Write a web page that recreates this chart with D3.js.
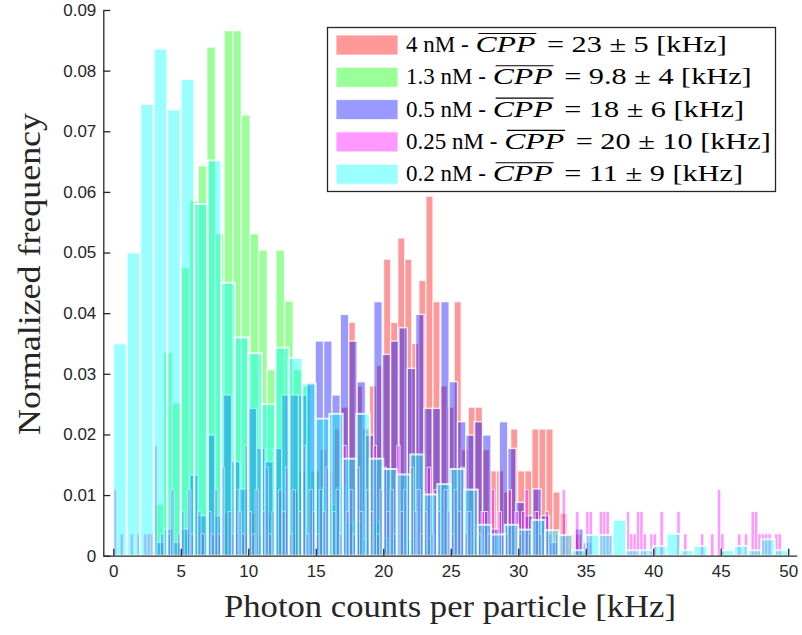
<!DOCTYPE html>
<html>
<head>
<meta charset="utf-8">
<script src="https://cdn.jsdelivr.net/npm/d3@7"></script>
<style>
  body { margin: 0; background: #fff; }
  svg { display: block; }
</style>
</head>
<body>
<svg id="chart" width="802" height="635"></svg>
<script>
// Normalized histograms of photon counts per particle, one per concentration.
// Each series: first bin edge, bin width (kHz) and normalized frequency per bin.

const redStart = 5.38, redBinWidth = 0.523;            // 4 nM
const redFreq = [
  0.0035, 0, 0.0035, 0, 0.0035, 0.007, 0, 0.0035, 0.0035, 0.007,
  0.0035, 0.007, 0.0035, 0.0105, 0.007, 0.0105, 0.014, 0.0105, 0.014, 0.0175,
  0.014, 0.0209, 0.0245, 0.0385, 0.028, 0.0209, 0.028, 0.0314, 0.0489, 0.0385,
  0.0524, 0.0489, 0.035, 0.0454, 0.0593, 0.0419, 0.028, 0.0245, 0.0419, 0.0175,
  0.0245, 0.0245, 0.0175, 0.014, 0.014, 0.0105, 0.0209, 0.014, 0.014, 0.0209,
  0.0209, 0.0209, 0.0105, 0.007, 0.0035, 0.0035
];

const greenStart = 3.09, greenBinWidth = 0.64;         // 1.3 nM
const greenFreq = [
  0.0085, 0.0335, 0.0252, 0.0475, 0.0586, 0.0643, 0.0839, 0.0531, 0.0866, 0.0866,
  0.0727, 0.0531, 0.0504, 0.0307, 0.0504, 0.042, 0.0307, 0.028, 0.014, 0.0112,
  0.0084, 0.0112, 0.0056, 0.0056, 0.0028, 0.0056, 0.0028, 0.0028, 0, 0.0028,
  0, 0.0028, 0, 0, 0, 0, 0, 0.0028
];

const blueStart = 3.18, blueBinWidth = 0.62;           // 0.5 nM
const blueFreq = [
  0.0022, 0.0044, 0.0022, 0.0044, 0.0133, 0.0066, 0.0199, 0.0066, 0.0265, 0.0155,
  0.011, 0.0243, 0.0177, 0.0155, 0.0177, 0.0265, 0.0265, 0.0265, 0.0286, 0.0354,
  0.0354, 0.0265, 0.0398, 0.0354, 0.0287, 0.0199, 0.0419, 0.0332, 0.0354, 0.0376,
  0.0309, 0.0398, 0.0243, 0.0243, 0.0419, 0.0287, 0.0221, 0.0199, 0.0221, 0.0199,
  0.0044, 0.0221, 0.0177, 0.0088, 0.0066, 0.011, 0.0066, 0.0022, 0, 0,
  0.0044, 0.0022
];

const pinkStart = 0, pinkBinWidth = 0.25;              // 0.25 nM
const pinkFreq = [
  0.0109, 0, 0.0036, 0, 0, 0.0036, 0, 0.0036, 0, 0.0036,
  0.0036, 0.0036, 0.0182, 0, 0.0036, 0, 0.0036, 0.0109, 0, 0.0036,
  0.0073, 0, 0.0109, 0.0036, 0, 0.0073, 0.0036, 0, 0.0073, 0.0036,
  0.0109, 0.0036, 0.0146, 0, 0.0073, 0.0036, 0.0109, 0.0073, 0.0036, 0.0182,
  0.0073, 0.0036, 0.0109, 0, 0.0073, 0.0146, 0.0036, 0.0073, 0, 0.0109,
  0.0073, 0.0146, 0.0036, 0.0109, 0, 0.0073, 0.0182, 0.0036, 0.0109, 0.0073,
  0.0036, 0.0109, 0.0073, 0.0146, 0, 0.0073, 0.0109, 0.0036, 0.0182, 0.0073,
  0.0109, 0.0036, 0.0146, 0.0073, 0, 0.0109, 0.0073, 0.0182, 0.0036, 0.0109,
  0.0146, 0.0073, 0.0109, 0.0036, 0.0182, 0.0073, 0.0109, 0, 0.0146, 0.0073,
  0.0109, 0.0036, 0.0073, 0.0146, 0.0036, 0.0109, 0.0073, 0, 0.0109, 0.0073,
  0.0036, 0.0109, 0.0073, 0.0146, 0.0036, 0.0073, 0, 0.0109, 0.0036, 0.0073,
  0.0073, 0.0036, 0.0109, 0, 0.0073, 0.0036, 0.0036, 0.0109, 0, 0.0073,
  0.0036, 0.0073, 0.0109, 0.0036, 0, 0.0073, 0.0036, 0, 0.0073, 0.0036,
  0, 0.0036, 0, 0.0109, 0.0036, 0, 0, 0.0073, 0, 0,
  0.0073, 0.0073, 0, 0, 0.0073, 0.0073, 0.0073, 0.0036, 0, 0,
  0, 0, 0.0073, 0.0036, 0.0036, 0.0073, 0.0073, 0.0036, 0, 0.0036,
  0.0036, 0, 0.0073, 0, 0, 0, 0, 0.0073, 0, 0.0036,
  0, 0, 0, 0, 0.0036, 0, 0, 0.0036, 0, 0.0109,
  0.0036, 0, 0, 0, 0, 0.0036, 0, 0.0036, 0, 0.0073,
  0.0073, 0.0036, 0.0036, 0.0036, 0.0036, 0, 0.0036, 0.0036, 0, 0
];

const cyanStart = 0, cyanBinWidth = 1;                 // 0.2 nM
const cyanFreq = [
  0.035, 0.050, 0.0745, 0.0836, 0.0736, 0.0786, 0.058, 0.0652, 0.045, 0.036,
  0.0334, 0.025, 0.0343, 0.0326, 0.0284, 0.0226, 0.0234, 0.016, 0.0234, 0.016,
  0.0143, 0.0134, 0.0167, 0.0101, 0.0118, 0.0143, 0.0109, 0.0051, 0.0035, 0.0051,
  0.0043, 0.0059, 0.0042, 0.0034, 0.0009, 0.0034, 0.0034, 0.0059, 0.0009, 0.0009,
  0.0016, 0.0036, 0.0009, 0.0016, 0, 0.0009, 0.0016, 0.0009, 0.0027, 0.0009
];

// Legend text pieces
const seriesNames = ["4 nM", "1.3 nM", "0.5 nM", "0.25 nM", "0.2 nM"];
const cppMeans = ["23", "9.8", "18", "20", "11"];
const cppErrors = ["5", "4", "6", "10", "9"];
const seriesColors = ["#ff0000", "#00ff00", "#0000ff", "#ff00ff", "#00ffff"];

const xTicks = [0, 5, 10, 15, 20, 25, 30, 35, 40, 45, 50];
const yTicks = [0, 0.01, 0.02, 0.03, 0.04, 0.05, 0.06, 0.07, 0.08, 0.09];

const series = [
  { start: redStart, width: redBinWidth, freq: redFreq, edge: 1.3 },
  { start: greenStart, width: greenBinWidth, freq: greenFreq, edge: 1.4 },
  { start: blueStart, width: blueBinWidth, freq: blueFreq, edge: 1.4 },
  { start: pinkStart, width: pinkBinWidth, freq: pinkFreq, edge: 0.9 },
  { start: cyanStart, width: cyanBinWidth, freq: cyanFreq, edge: 2 }
];

const svg = d3.select("#chart");
const axisColor = "#262626";
const serif = "'Liberation Serif', 'Times New Roman', serif";

const x = d3.scaleLinear().domain([-0.74, 50.63]).range([103.3, 796.7]);
const y = d3.scaleLinear().domain([0, 0.09]).range([555.7, 10]);

// Bars, drawn in legend order so later series sit on top
const barsLayer = svg.append("g").attr("class", "bars");
series.forEach((s, si) => {
  const bins = s.freq
    .map((v, i) => ({ x0: s.start + i * s.width, x1: s.start + (i + 1) * s.width, v }))
    .filter(d => d.v > 0);
  barsLayer.append("g")
    .selectAll("rect")
    .data(bins)
    .join("rect")
    .attr("x", d => x(d.x0))
    .attr("width", d => x(d.x1) - x(d.x0))
    .attr("y", d => y(d.v))
    .attr("height", d => y(0) - y(d.v))
    .attr("fill", seriesColors[si])
    .attr("fill-opacity", 0.4)
    .attr("stroke", "#ffffff")
    .attr("stroke-opacity", 0.8)
    .attr("stroke-width", s.edge);
});

// Axes with inward ticks
const xAxis = d3.axisBottom(x).tickValues(xTicks).tickFormat(d3.format("d"))
  .tickSizeInner(-7).tickSizeOuter(0).tickPadding(9);
const yAxis = d3.axisLeft(y).tickValues(yTicks)
  .tickFormat(d => d === 0 ? "0" : d3.format(".2f")(d))
  .tickSizeInner(-7).tickSizeOuter(0).tickPadding(7);

const gx = svg.append("g").attr("transform", `translate(0,${y(0)})`).call(xAxis);
const gy = svg.append("g").attr("transform", `translate(${x.range()[0]},0)`).call(yAxis);

[gx, gy].forEach(g => {
  g.select(".domain").attr("stroke", axisColor).attr("stroke-width", 1.3);
  g.selectAll(".tick line").attr("stroke", axisColor).attr("stroke-width", 1.3);
  g.selectAll(".tick text")
    .attr("fill", axisColor)
    .style("font-family", "'Liberation Sans', Arial, sans-serif")
    .style("font-size", "17px");
});

// Axis titles
svg.append("text")
  .attr("x", (x.range()[0] + x.range()[1]) / 2)
  .attr("y", 617)
  .attr("text-anchor", "middle")
  .attr("fill", axisColor)
  .style("font-family", serif)
  .style("font-size", "31px")
  .attr("textLength", 452)
  .attr("lengthAdjust", "spacingAndGlyphs")
  .text("Photon counts per particle [kHz]");

svg.append("text")
  .attr("transform", `translate(40,274) rotate(-90)`)
  .attr("text-anchor", "middle")
  .attr("fill", axisColor)
  .style("font-family", serif)
  .style("font-size", "31px")
  .attr("textLength", 322)
  .attr("lengthAdjust", "spacingAndGlyphs")
  .text("Normalized frequency");

// Legend
const legend = svg.append("g").attr("class", "legend");
legend.append("rect")
  .attr("x", 327.5).attr("y", 27.5).attr("width", 448).attr("height", 164)
  .attr("fill", "#ffffff").attr("stroke", axisColor).attr("stroke-width", 1.3);

const rowY = d => 45 + 32.3 * d;
const legendFont = 23;
const textLeft = 406;

// Helper: a text piece placed at x0 and widened horizontally by factor k
function piece(x0, yBase, str, k, italic) {
  const g = legend.append("g").attr("transform", `translate(${x0},0) scale(${k},1)`);
  const t = g.append("text")
    .attr("x", 0).attr("y", yBase)
    .attr("fill", "#000")
    .attr("xml:space", "preserve")
    .style("font-family", serif)
    .style("font-size", legendFont + "px")
    .style("font-style", italic ? "italic" : "normal")
    .text(str);
  return t.node().getComputedTextLength() * k;
}

// Widening factors for the math part (italic CPP and the value expression)
let cppScale = null, restScale = null;

seriesNames.forEach((name, i) => {
  const cy = rowY(i);
  const base = cy + 7;
  legend.append("rect")
    .attr("x", 336).attr("y", cy - 10).attr("width", 62).attr("height", 20)
    .attr("fill", seriesColors[i]).attr("fill-opacity", 0.4)
    .attr("stroke", "#ffffff").attr("stroke-opacity", 0.8);

  const prefixW = piece(textLeft, base, `${name} - `, 1, false);
  const cppX = textLeft + prefixW + 1;

  if (cppScale === null) {
    const probe = legend.append("text").style("font-family", serif)
      .style("font-size", legendFont + "px").style("font-style", "italic").text("CPP");
    cppScale = 60 / probe.node().getComputedTextLength();
    probe.remove();
  }
  const cppW = piece(cppX, base, "CPP", cppScale, true);

  legend.append("line")
    .attr("x1", cppX + 3).attr("x2", cppX + cppW + 1)
    .attr("y1", cy - 11.5).attr("y2", cy - 11.5)
    .attr("stroke", "#000").attr("stroke-width", 1.1);

  const restStr = " = " + cppMeans[i] + " \u00b1 " + cppErrors[i] + " [kHz]";
  const restX = cppX + cppW + 4;
  if (restScale === null) {
    const probe = legend.append("text").attr("xml:space", "preserve").style("font-family", serif)
      .style("font-size", legendFont + "px").text(restStr);
    restScale = (727 - restX) / probe.node().getComputedTextLength();
    probe.remove();
  }
  piece(restX, base, restStr, restScale, false);
});
</script>
</body>
</html>
